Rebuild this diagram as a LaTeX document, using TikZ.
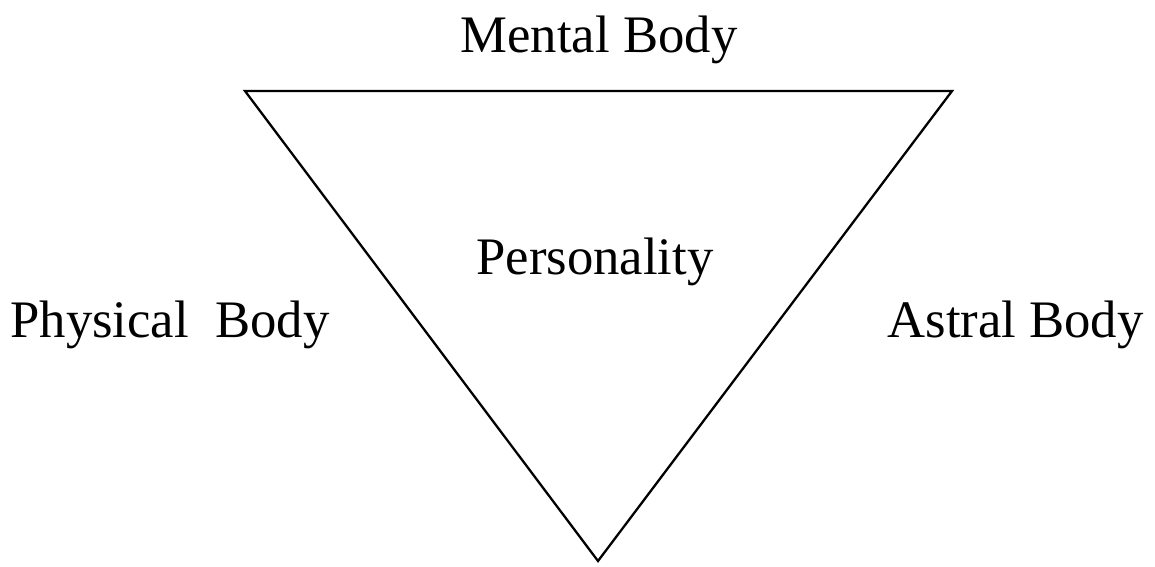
\documentclass[tikz,border=0pt]{standalone}
\usepackage{fontspec}
\setmainfont{Liberation Serif}
\usetikzlibrary{positioning}
\tikzset{
  koerper/.style={font=\fontsize{30}{36}\selectfont, inner sep=0pt},
  kante/.style={line width=1.3pt, black},
}

\begin{document}
\begin{tikzpicture}[x=0.02cm, y=-0.02cm]
    \useasboundingbox (0,0) rectangle (1155,566);
    \coordinate (obenL) at (245,91);
    \coordinate (obenR) at (952,91);
    \coordinate (unten) at (598,561);

    \node[koerper] (mental)   at (599,40)  {Mental Body};
    \node[koerper] (person)   at (595,262) {Personality};
    \node[koerper, anchor=west] (physisch) at (10,325) {Physical\ \ Body};
    \node[koerper, anchor=east] (astral)   at (1144,325) {Astral Body};

    \draw[kante, line join=miter] (obenL) -- (obenR) -- (unten) -- cycle;
\end{tikzpicture}
\end{document}
